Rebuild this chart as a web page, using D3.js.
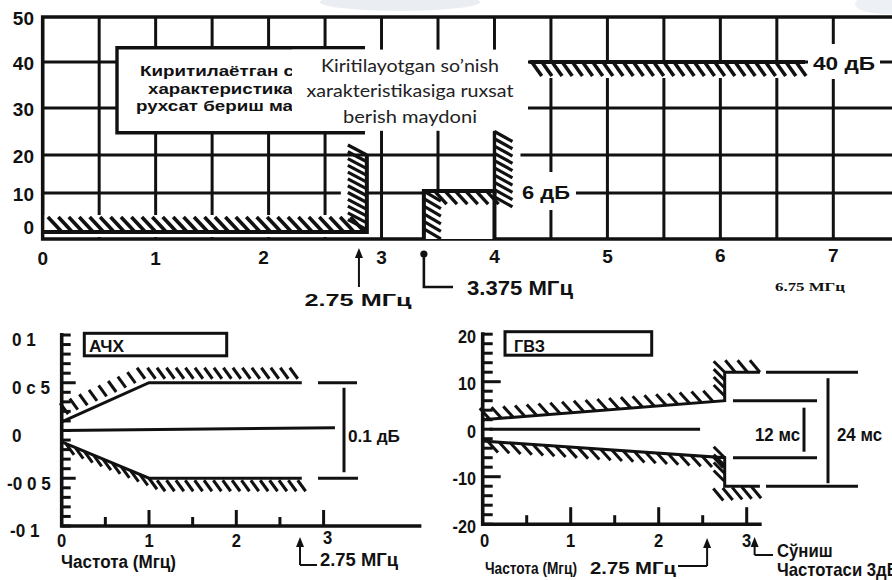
<!DOCTYPE html>
<html>
<head>
<meta charset="utf-8">
<script src="https://cdn.jsdelivr.net/npm/d3@7"></script>
<style>
  html, body { margin: 0; padding: 0; background: #fff; }
  svg { display: block; }
  text { font-family: "Liberation Sans", Arial, sans-serif; font-weight: bold; fill: #111; }
  .narrow { font-family: "Liberation Sans Narrow", "Arial Narrow", "Liberation Sans", sans-serif; }
  .uz { font-family: Lato, "Open Sans", sans-serif; font-weight: normal; fill: #222; }
</style>
</head>
<body>
<svg id="chart" width="892" height="580"></svg>
<script>
// ---- top chart: roll-off mask, MHz vs dB ----
var topFreqLabels = [0, 1, 2, 3, 4, 5, 6, 7];
var topDbLabels = [0, 10, 20, 30, 40, 50];
var topGridFreq = [0.5, 1, 1.5, 2, 2.5, 3, 3.5, 4, 4.5, 5, 5.5, 6, 6.5, 7];
var topGridDb = [10, 20, 30, 40];
var passEdge = [[0, 0], [2.87, 0], [2.87, 20]];
var stepEdge = [[3.375, -2], [3.375, 10.5], [4, 10.5], [4, -2]];
var riserEdge = [[4, 10.5], [4, 25]];
var stopEdge = [[4.31, 40], [6.75, 40]];

// ---- bottom left: АЧХ ----
var achYTicks = [-0.1, -0.09, -0.08, -0.07, -0.06, -0.05, -0.04, -0.03, -0.02, -0.01, 0,
                 0.01, 0.02, 0.03, 0.04, 0.05, 0.06, 0.07, 0.08, 0.09, 0.1];
var achYLabelVals = [0.1, 0.05, 0, -0.05, -0.1];
var achYLabels = ['0 1', '0 c 5', '0', '-0 0 5', '-0 1'];
var achXTicks = [0.5, 1, 1.5, 2, 2.5, 3];
var achXLabels = [0, 1, 2, 3];
var achUpper = [[0, 0.009], [1, 0.05], [2.75, 0.05]];
var achLower = [[0, -0.012], [1, -0.05], [2.75, -0.05]];
var achZero = [[0, 0], [3.13, 0.003]];

// ---- bottom right: ГВЗ ----
var gvzYTicks = [-20, -18, -16, -14, -12, -10, -8, -6, -4, -2, 0, 2, 4, 6, 8, 10, 12, 14, 16, 18, 20];
var gvzYLabels = [20, 10, 0, -10, -20];
var gvzXTicks = [0.5, 1, 1.5, 2, 2.5, 3];
var gvzXLabels = [0, 1, 2, 3];
var gvzUpper = [[0, 2], [2.75, 6], [2.75, 12], [3.15, 12]];
var gvzLower = [[0, -2.5], [2.75, -6], [2.75, -12], [3.15, -12]];
var gvzZero = [[0.08, 0], [2.47, 0]];

var ink = '#111';
var svg = d3.select('#chart');

function line(g, pts, w) {
  return g.append('path')
    .attr('d', d3.line()(pts))
    .attr('fill', 'none')
    .attr('stroke', ink)
    .attr('stroke-width', w);
}

// "\" strokes along a segment; side -1 reaches up-left of the line, +1 down-right
function hatch(g, a, b, side, o) {
  var len = Math.hypot(b[0] - a[0], b[1] - a[1]);
  var n = Math.max(1, Math.round(len / o.step));
  var gap = o.gap || 0;
  for (var i = 0; i <= n; i++) {
    var px = a[0] + (b[0] - a[0]) * i / n + side * gap;
    var py = a[1] + (b[1] - a[1]) * i / n + side * gap;
    g.append('line')
      .attr('x1', px).attr('y1', py)
      .attr('x2', px + side * o.dx).attr('y2', py + side * o.dy)
      .attr('stroke', ink)
      .attr('stroke-width', o.w || 3.2);
  }
}

function blank(g, x0, y0, x1, y1) {
  g.append('rect')
    .attr('x', Math.min(x0, x1)).attr('y', Math.min(y0, y1))
    .attr('width', Math.abs(x1 - x0)).attr('height', Math.abs(y1 - y0))
    .attr('fill', '#fff');
}

function arrowUp(g, x, y0, y1) {
  line(g, [[x, y0], [x, y1 + 6]], 2);
  g.append('path')
    .attr('d', 'M' + x + ',' + y1 + 'l-4,10h8z')
    .attr('fill', ink);
}

function label(g, txt, x, y, size, anchor, len, cls, squeeze) {
  var t = g.append('text')
    .attr('x', x).attr('y', y)
    .attr('font-size', size)
    .attr('text-anchor', anchor || 'start')
    .text(txt);
  if (cls) t.attr('class', cls);
  // the lower panels use a condensed face: squeeze the natural width
  if (!len && cls === 'narrow') len = t.node().getComputedTextLength() * (squeeze || 0.88);
  if (len) t.attr('textLength', len).attr('lengthAdjust', 'spacingAndGlyphs');
  return t;
}

// faint scan watermark at the top edge
var wm = svg.append('g').attr('opacity', 0.5);
wm.append('ellipse').attr('cx', 400).attr('cy', 2).attr('rx', 80).attr('ry', 9).attr('fill', '#d5dee8');
wm.append('ellipse').attr('cx', 885).attr('cy', 4).attr('rx', 30).attr('ry', 10).attr('fill', '#dbe3ec');

// ================= top chart =================
var xTop = d3.scaleLinear().domain([0, 7]).range([42.7, 833.3]);
var yTop = d3.scaleLinear()
  .domain([-2, 0, 10, 20, 30, 40, 50])
  .range([239, 232, 193, 155, 108, 62, 17]);
var topG = svg.append('g');
var P = function(d) { return [xTop(d[0]), yTop(d[1])]; };

topG.selectAll('.vgrid')
  .data(topGridFreq)
  .enter()
  .append('line')
    .attr('class', 'vgrid')
    .attr('x1', d => xTop(d)).attr('x2', d => xTop(d))
    .attr('y1', yTop(50)).attr('y2', yTop(-2))
    .attr('stroke', ink).attr('stroke-width', 3);

topG.selectAll('.hgrid')
  .data(topGridDb)
  .enter()
  .append('line')
    .attr('class', 'hgrid')
    .attr('x1', xTop(0)).attr('x2', xTop(7.7))
    .attr('y1', d => yTop(d)).attr('y2', d => yTop(d))
    .attr('stroke', ink).attr('stroke-width', 3);

topG.append('path')
  .attr('d', 'M' + xTop(7.7) + ',' + yTop(50) + 'H' + xTop(0) + 'V' + yTop(-2) + 'H' + xTop(7.7))
  .attr('fill', 'none').attr('stroke', ink).attr('stroke-width', 3.6);

// white ground under the masks and hatching
blank(topG, xTop(0) + 2, yTop(0) - 17, xTop(2.87), yTop(-2) - 2);
blank(topG, xTop(2.87) - 26, yTop(20) + 2, xTop(2.87), yTop(0));
topG.append('path')
  .attr('d', d3.line()(stepEdge.map(P)) + 'Z')
  .attr('fill', '#fff');
blank(topG, xTop(4) + 2, yTop(25), xTop(4) + 26, yTop(8.5));
blank(topG, xTop(4.31), yTop(40) + 2, xTop(6.76), yTop(40) + 16);
blank(topG, 516, 172, 576, 210);
blank(topG, 808, 44, 880, 79);

// text box
blank(topG, 117, 47.7, 365, 132.7);
topG.append('path')
  .attr('d', 'M365,47.7H117V132.7H365')
  .attr('fill', 'none').attr('stroke', ink).attr('stroke-width', 3.4);
label(topG, 'Киритилаётган с', 140, 76, 15.5, 'start', 154).attr('fill', '#1c1f2b');
label(topG, 'характеристика', 148, 93.5, 15.5, 'start', 145).attr('fill', '#1c1f2b');
label(topG, 'рухсат бериш ма', 136, 111, 15.5, 'start', 157).attr('fill', '#1c1f2b');
blank(topG, 292, 49.6, 528, 130.8);
label(topG, 'Kiritilayotgan so’nish', 410, 72, 17.5, 'middle', 178, 'uz');
label(topG, 'xarakteristikasiga ruxsat', 410, 97, 17.5, 'middle', 207, 'uz');
label(topG, 'berish maydoni', 410, 123, 17.5, 'middle', 134, 'uz');

// mask edges
line(topG, passEdge.map(P), 4);
line(topG, stepEdge.map(P), 4);
line(topG, riserEdge.map(P), 3.4);
line(topG, stopEdge.map(P), 4);

hatch(topG, P([0.17, 0]), P([2.85, 0]), -1, { dx: 14, dy: 15, step: 10.5, w: 3.6 });
hatch(topG, P([2.87, 20]), P([2.87, 0.6]), -1, { dx: 19, dy: 10, step: 7, w: 3.2 });
hatch(topG, P([3.375, 10.5]), P([3.375, 0.8]), 1, { dx: 17, dy: 10, step: 7, w: 3.2 });
hatch(topG, P([3.47, 10.5]), P([3.93, 10.5]), 1, { dx: 12, dy: 13, step: 10, w: 3.4 });
hatch(topG, P([4, 25]), P([4, 9]), 1, { dx: 18, dy: 10, step: 7, w: 3.2 });
hatch(topG, P([4.33, 40]), P([6.67, 40]), 1, { dx: 10, dy: 14, step: 10, w: 3.6 });

// tick labels
topDbLabels.forEach(function(d) {
  label(topG, d, 34, Math.min(yTop(d) + 1.5, 227), 19, 'end').attr('dy', '0.35em');
});
topFreqLabels.forEach(function(d) {
  label(topG, d, xTop(d) - (d === 2 ? 5 : 0), 265 - d * 0.5, 19, 'middle');
});

label(topG, '6 дБ', 522, 199, 19, 'start', 48);
label(topG, '40 дБ', 813, 70, 19, 'start', 62);

arrowUp(topG, xTop(2.8), 287, 248);
label(topG, '2.75 МГц', 358, 306, 17, 'middle', 107);

topG.append('circle')
  .attr('cx', xTop(3.375)).attr('cy', 254).attr('r', 3.6).attr('fill', ink);
line(topG, [[xTop(3.375), 254], [xTop(3.375), 287], [453, 287]], 2.6);
label(topG, '3.375 МГц', 467, 295, 20, 'start', 106);
label(topG, '6.75 МГц', 775, 291, 12.5, 'start', 70)
  .style('font-family', '"Liberation Serif", "DejaVu Serif", serif');

// ================= АЧХ =================
var xAch = d3.scaleLinear().domain([0, 3]).range([61.7, 323.6]);
var yAch = d3.scaleLinear().domain([-0.1, 0.1]).range([526, 335]);
var achG = svg.append('g');
var PA = function(d) { return [xAch(d[0]), yAch(d[1])]; };

achG.selectAll('.ytick')
  .data(achYTicks)
  .enter()
  .append('line')
    .attr('x1', xAch(0))
    .attr('x2', d => xAch(0) + (Math.abs(Math.abs(d) - 0.05) < 1e-6 ? 14 : 9))
    .attr('y1', d => yAch(d)).attr('y2', d => yAch(d))
    .attr('stroke', ink).attr('stroke-width', 3);

achG.selectAll('.xtick')
  .data(achXTicks)
  .enter()
  .append('line')
    .attr('x1', d => xAch(d)).attr('x2', d => xAch(d))
    .attr('y1', yAch(-0.1))
    .attr('y2', d => yAch(-0.1) - (d % 1 === 0 ? 16 : 9))
    .attr('stroke', ink).attr('stroke-width', 3);

achG.append('path')
  .attr('d', 'M' + xAch(0) + ',' + (yAch(0.1) - 2) + 'V' + yAch(-0.1) + 'H' + xAch(4.12))
  .attr('fill', 'none').attr('stroke', ink).attr('stroke-width', 3.6);

achG.append('rect')
  .attr('x', 84.3).attr('y', 333.3).attr('width', 142.4).attr('height', 22.5)
  .attr('fill', '#fff').attr('stroke', ink).attr('stroke-width', 3);
label(achG, 'АЧХ', 89, 352, 17, 'start', 35, 'narrow');

line(achG, achUpper.map(PA), 3);
line(achG, achLower.map(PA), 3);
line(achG, achZero.map(PA), 3);
hatch(achG, PA([0.12, 0.013]), PA([1, 0.05]), -1, { dx: 8, dy: 11, step: 10, gap: 4, w: 3 });
hatch(achG, PA([1.12, 0.05]), PA([2.75, 0.05]), -1, { dx: 8, dy: 11, step: 9.5, gap: 4, w: 3 });
hatch(achG, PA([0.05, -0.014]), PA([1, -0.05]), 1, { dx: 8, dy: 11, step: 10, w: 3 });
hatch(achG, PA([1.07, -0.05]), PA([2.68, -0.05]), 1, { dx: 8, dy: 11, step: 9.5, gap: 2, w: 3 });

line(achG, [[318, yAch(0.05)], [357, yAch(0.05)]], 3);
line(achG, [[318, yAch(-0.05)], [358, yAch(-0.05)]], 3);
line(achG, [[344, yAch(0.05) + 5], [344, yAch(-0.05) - 6]], 3);
label(achG, '0.1 дБ', 348, 442, 17, 'start', 52, 'narrow');

achYLabelVals.forEach(function(d, i) {
  var s = achYLabels[i];
  label(achG, s, s.charAt(0) === '-' ? (d < -0.07 ? 10 : 7) : 12, yAch(d) + 5, 18, 'start', null, 'narrow', 0.95)
    .attr('dy', '0.35em');
});
achXLabels.forEach(function(d) {
  label(achG, d, xAch(d) + (d === 3 ? 4 : 0), d === 3 ? 544 : 547, 18, 'middle', null, 'narrow', 0.92);
});
label(achG, 'Частота (Мгц)', 61, 568, 18, 'start', 115, 'narrow');
arrowUp(achG, xAch(2.73), 565, 537);
line(achG, [[xAch(2.73), 565], [317, 565]], 2);
label(achG, '2.75 МГц', 320, 566, 18, 'start', 78, 'narrow');

// ================= ГВЗ =================
var xGvz = d3.scaleLinear().domain([0, 3]).range([482.7, 746.7]);
var yGvz = d3.scaleLinear().domain([-20, 20]).range([524.2, 334.2]);
var gvzG = svg.append('g');
var PG = function(d) { return [xGvz(d[0]), yGvz(d[1])]; };

gvzG.selectAll('.ytick')
  .data(gvzYTicks)
  .enter()
  .append('line')
    .attr('x1', xGvz(0))
    .attr('x2', d => xGvz(0) + (Math.abs(d) === 10 ? 18 : 10))
    .attr('y1', d => yGvz(d)).attr('y2', d => yGvz(d))
    .attr('stroke', ink).attr('stroke-width', 3);

gvzG.selectAll('.xtick')
  .data(gvzXTicks)
  .enter()
  .append('line')
    .attr('x1', d => xGvz(d)).attr('x2', d => xGvz(d))
    .attr('y1', yGvz(-20))
    .attr('y2', d => yGvz(-20) - (d % 1 === 0 ? 17 : 9))
    .attr('stroke', ink).attr('stroke-width', 3);

gvzG.append('path')
  .attr('d', 'M' + xGvz(0) + ',' + (yGvz(20) - 2) + 'V' + yGvz(-20) + 'H' + xGvz(3.17))
  .attr('fill', 'none').attr('stroke', ink).attr('stroke-width', 3.6);

gvzG.append('rect')
  .attr('x', 505).attr('y', 331.7).attr('width', 146.7).attr('height', 23.5)
  .attr('fill', '#fff').attr('stroke', ink).attr('stroke-width', 3);
label(gvzG, 'ГВЗ', 514, 352, 17, 'start', 31, 'narrow');

line(gvzG, gvzUpper.map(PG), 3);
line(gvzG, gvzLower.map(PG), 3);
line(gvzG, gvzZero.map(PG), 3);
hatch(gvzG, PG([0.08, 2.1]), PG([2.62, 5.8]), -1, { dx: 10, dy: 11, step: 11.5, w: 3 });
hatch(gvzG, PG([2.75, 7]), PG([2.75, 12]), -1, { dx: 11, dy: 11, step: 8, w: 3 });
hatch(gvzG, PG([2.87, 12]), PG([3.15, 12]), -1, { dx: 10, dy: 12, step: 10, w: 3 });
hatch(gvzG, PG([0.06, -2.6]), PG([2.62, -5.8]), 1, { dx: 10, dy: 11, step: 11.5, w: 3 });
hatch(gvzG, PG([2.75, -6]), PG([2.75, -11]), -1, { dx: 11, dy: 11, step: 8, w: 3 });
hatch(gvzG, PG([2.62, -12.5]), PG([3.05, -12]), 1, { dx: 10, dy: 12, step: 10, w: 3 });

line(gvzG, [[766, yGvz(12)], [858, yGvz(12)]], 3);
line(gvzG, [[733, yGvz(6)], [817, yGvz(6)]], 3);
line(gvzG, [[733, yGvz(-6)], [817, yGvz(-6)]], 3);
line(gvzG, [[766, yGvz(-12)], [858, yGvz(-12)]], 3);
line(gvzG, [[804, yGvz(6) + 7], [804, yGvz(-6) - 6]], 3);
line(gvzG, [[828, yGvz(12) + 6], [828, yGvz(-12) - 3]], 3);
label(gvzG, '12 мс', 800, 441, 18, 'end', 45, 'narrow');
label(gvzG, '24 мс', 837, 441, 18, 'start', 45, 'narrow');

gvzYLabels.forEach(function(d) {
  label(gvzG, d, 476, yGvz(d) + 2, 18, 'end', null, 'narrow', 0.9).attr('dy', '0.35em');
});
gvzXLabels.forEach(function(d) {
  label(gvzG, d, xGvz(d) + (d === 0 ? 2 : 0), 547, 18, 'middle', null, 'narrow', 0.92);
});
label(gvzG, 'Частота (Мгц)', 485, 574, 16, 'start', 92, 'narrow');
arrowUp(gvzG, xGvz(2.55), 566, 538);
line(gvzG, [[xGvz(2.55), 566], [678, 566]], 2);
label(gvzG, '2.75 МГц', 676, 574, 17, 'end', 86, 'narrow');
arrowUp(gvzG, xGvz(3.09), 555, 537);
line(gvzG, [[xGvz(3.09), 555], [773, 555]], 2);
label(gvzG, 'Сўниш', 777, 557, 19, 'start', null, 'narrow');
label(gvzG, 'Частотаси 3дБ', 777, 576, 19, 'start', null, 'narrow');
</script>
</body>
</html>
